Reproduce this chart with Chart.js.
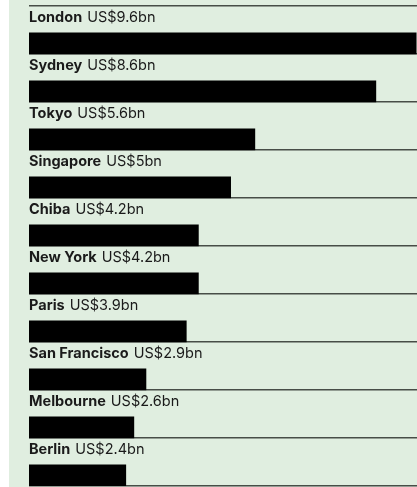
<!DOCTYPE html>
<html>
<head>
<meta charset="utf-8">
<script src="https://cdn.jsdelivr.net/npm/chart.js@4"></script>
<style>
  html, body { margin: 0; padding: 0; background: #fff; }
  #panel {
    position: absolute;
    left: 9px;
    top: 0;
    width: 408px;
    height: 487px;
    background: #e0eee0;
  }
  canvas { display: block; }
</style>
</head>
<body>
<div id="panel"><canvas id="Chart" width="408" height="487"></canvas></div>
<script>
const cities = [
  "London", "Sydney", "Tokyo", "Singapore", "Chiba",
  "New York", "Paris", "San Francisco", "Melbourne", "Berlin",
];
const values = [9.6, 8.6, 5.6, 5, 4.2, 4.2, 3.9, 2.9, 2.6, 2.4];
const valueLabels = [
  "US$9.6bn", "US$8.6bn", "US$5.6bn", "US$5bn", "US$4.2bn",
  "US$4.2bn", "US$3.9bn", "US$2.9bn", "US$2.6bn", "US$2.4bn",
];

const FONT = 'Inter, "Liberation Sans", Arial, sans-serif';
const BAR_POS = 0.78; // bar sits at the bottom of each row

// city name in bold, then the value, written above each bar
const rowLabels = {
  id: "rowLabels",
  afterDatasetsDraw(chart) {
    const ctx = chart.ctx;
    const yScale = chart.scales.y;
    const left = chart.chartArea.left;
    ctx.save();
    ctx.fillStyle = "#1a1a1a";
    ctx.textBaseline = "alphabetic";
    ctx.textAlign = "left";
    cities.forEach((city, i) => {
      const y = yScale.getPixelForValue(i) + 16;
      ctx.font = "bold 14.5px " + FONT;
      ctx.fillText(city, left, y);
      const w = ctx.measureText(city).width + 5;
      ctx.font = "14.5px " + FONT;
      ctx.fillText(valueLabels[i], left + w, y);
    });
    ctx.restore();
  },
};

const ctx = document.getElementById("Chart").getContext("2d");
new Chart(ctx, {
  type: "bar",
  data: {
    datasets: [
      {
        data: values.map((v, i) => ({ x: v, y: i + BAR_POS })),
        backgroundColor: "#000",
        borderWidth: 0,
        barThickness: 21,
      },
    ],
  },
  options: {
    indexAxis: "y",
    responsive: false,
    animation: false,
    layout: { padding: { left: 20, top: 6, right: 0, bottom: 1 } },
    plugins: {
      legend: { display: false },
      tooltip: { enabled: false },
    },
    scales: {
      x: { display: false, min: 0, max: 9.62 },
      y: {
        type: "linear",
        reverse: true,
        offset: false,
        min: 0,
        max: 10,
        ticks: { display: false, stepSize: 1 },
        grid: { color: "#474d47", lineWidth: 1.5, drawTicks: false, offset: false },
        border: { display: false },
      },
    },
  },
  plugins: [rowLabels],
});
</script>
</body>
</html>
